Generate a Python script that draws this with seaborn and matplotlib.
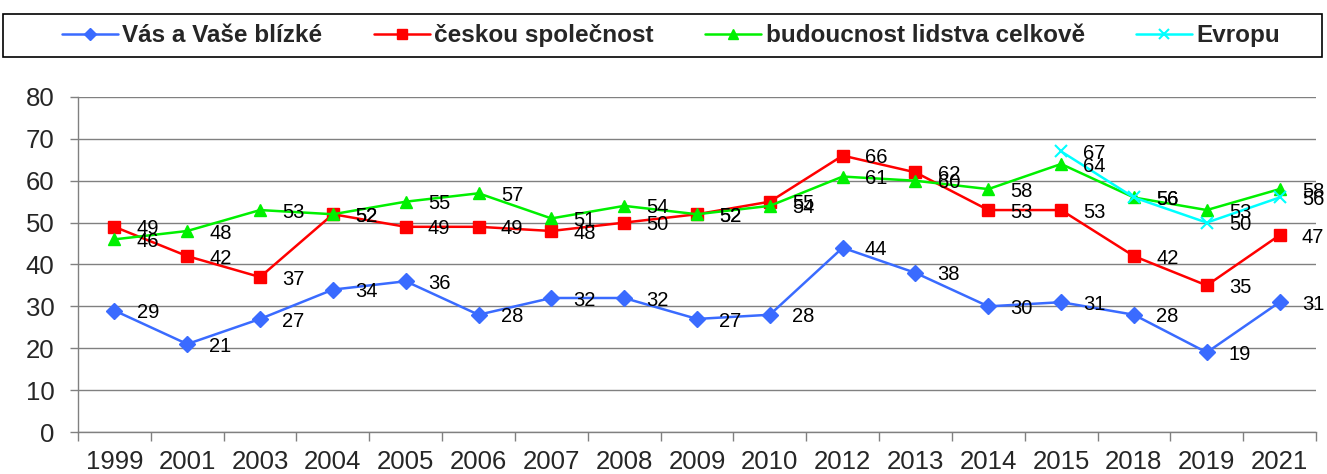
"""
Line chart: four survey series over years, with value labels
"""
import numpy as np
import pandas as pd
import matplotlib
matplotlib.use('Agg')
import matplotlib.pyplot as plt
from matplotlib.patches import Rectangle
import seaborn as sns

years = ['1999', '2001', '2003', '2004', '2005', '2006', '2007', '2008', '2009',
         '2010', '2012', '2013', '2014', '2015', '2018', '2019', '2021']

vas_blizke = [29, 21, 27, 34, 36, 28, 32, 32, 27, 28, 44, 38, 30, 31, 28, 19, 31]
ceska_spolecnost = [49, 42, 37, 52, 49, 49, 48, 50, 52, 55, 66, 62, 53, 53, 42, 35, 47]
lidstvo = [46, 48, 53, 52, 55, 57, 51, 54, 52, 54, 61, 60, 58, 64, 56, 53, 58]
evropa = [None] * 13 + [67, 56, 50, 56]

series_names = ['Vás a Vaše blízké', 'českou společnost',
                'budoucnost lidstva celkově', 'Evropu']

sns.set_style("white")
plt.rcParams['font.family'] = ['Liberation Sans', 'DejaVu Sans']

fig = plt.figure(figsize=(13.27, 4.74), dpi=100)
ax = fig.add_axes([0.0588, 0.0886, 0.9329, 0.7068])

styles = [
    (vas_blizke, '#3A6BFF', 'D', 8, 1.0),
    (ceska_spolecnost, '#FF0000', 's', 9, 1.0),
    (lidstvo, '#00F000', '^', 9, 1.0),
    (evropa, '#00FFFF', 'x', 9, 1.5),
]

for name, (vals, color, marker, ms, mew) in zip(series_names, styles):
    df = pd.DataFrame({'x': np.arange(len(years)), 'y': vals}).dropna()
    sns.lineplot(data=df, x='x', y='y', ax=ax, color=color, marker=marker,
                 markersize=ms, markeredgewidth=mew, markeredgecolor=color,
                 linewidth=1.8, label=name, legend=False)
    for xi, yi in zip(df['x'], df['y']):
        ax.annotate(f'{int(yi)}', (xi, yi), xytext=(16, -1.5), textcoords='offset points',
                    ha='left', va='center', fontsize=14.5, color='black')

ax.set_xlim(-0.5, len(years) - 0.5)
ax.set_ylim(0, 80)
ax.set_yticks(range(0, 81, 10))
ax.tick_params(axis='y', labelsize=18.5, length=6, width=1, color='#808080',
               direction='out', left=True, pad=11)
ax.set_xticks(np.arange(len(years)))
ax.set_xticklabels(years)
ax.set_xticks(np.arange(-0.5, len(years), 1), minor=True)
ax.tick_params(axis='x', which='major', length=0, labelsize=18.5, pad=13)
ax.tick_params(axis='x', which='minor', length=6.5, width=1, color='#808080',
               direction='out', bottom=True)
ax.set_xlabel('')
ax.set_ylabel('')

ax.yaxis.grid(True, color='#808080', linewidth=1)
ax.set_axisbelow(True)
for side in ['top', 'right']:
    ax.spines[side].set_visible(False)
for side in ['left', 'bottom']:
    ax.spines[side].set_color('#808080')
    ax.spines[side].set_linewidth(1)

# legend box across the full width
fig.patches.append(Rectangle((0.0023, 0.880), 0.9939, 0.091, transform=fig.transFigure,
                             fill=False, edgecolor='black', linewidth=1.2))

handles, labels = ax.get_legend_handles_labels()
leg = fig.legend(handles, labels, loc='center', ncol=4,
                 bbox_to_anchor=(0.5057, 0.925),
                 prop={'weight': 'bold', 'size': 17.5}, frameon=False,
                 handlelength=2.3, columnspacing=2.1, handletextpad=0.2,
                 borderaxespad=0, markerscale=0.75)

fig.savefig('out.png', dpi=100)
